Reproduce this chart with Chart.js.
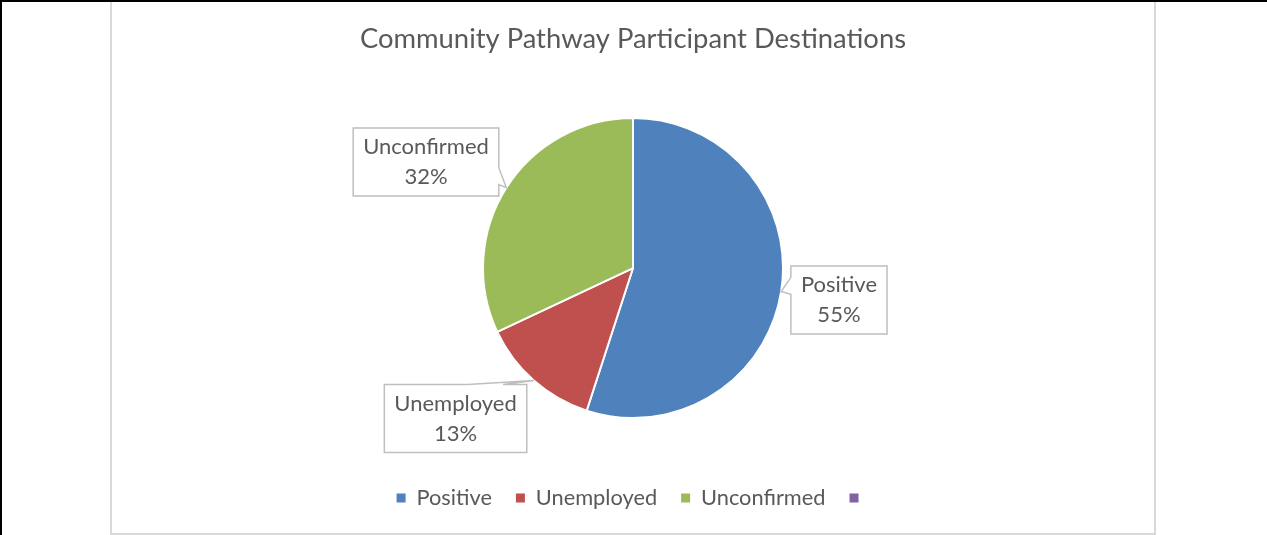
<!DOCTYPE html>
<html>
<head>
<meta charset="utf-8">
<title>Community Pathway Participant Destinations</title>
<script src="https://cdn.jsdelivr.net/npm/chart.js@4.4.1/dist/chart.umd.min.js"></script>
<style>
  html, body { margin: 0; padding: 0; background: #fff; }
  #page {
    position: absolute; left: 0; top: 0; width: 1267px; height: 535px;
    box-sizing: border-box; border-top: 2px solid #000; border-left: 2px solid #000;
  }
  #panel {
    position: absolute; left: 110px; top: 2px; width: 1046px; height: 533px;
    box-sizing: border-box; background: #fff;
    border-left: 2px solid #D9D9D9; border-right: 2px solid #D9D9D9; border-bottom: 2px solid #D9D9D9;
  }
  #chart { position: absolute; left: 0; top: 0; }
</style>
</head>
<body>
<div id="page"></div>
<div id="panel"><canvas id="chart" width="1042" height="531"></canvas></div>
<script>
// Destination categories and their shares (percent of participants)
const categories = ['Positive', 'Unemployed', 'Unconfirmed', ''];
const shares = [55, 13, 32, 0];
const sliceColors = ['#4F81BD', '#C0504D', '#9BBB59', '#8064A2'];
const chartTitle = 'Community Pathway Participant Destinations';

const FONT = 'Lato, "Noto Sans", sans-serif';
const TEXT = '#595959';

// Rectangular callout with a wedge tail pointing at each slice's outer edge
const calloutPlugin = {
  id: 'callouts',
  afterDatasetsDraw(chart, args, opts) {
    const ctx = chart.ctx;
    const meta = chart.getDatasetMeta(0);
    const total = shares.reduce((a, b) => a + b, 0);
    ctx.save();
    ctx.font = opts.fontSize + 'px ' + FONT;
    meta.data.forEach((arc, i) => {
      const v = shares[i];
      if (!v) return;
      const p = arc.getProps(['x', 'y', 'startAngle', 'endAngle', 'outerRadius'], true);
      const mid = (p.startAngle + p.endAngle) / 2;
      const tipX = p.x + Math.cos(mid) * p.outerRadius;
      const tipY = p.y + Math.sin(mid) * p.outerRadius;
      const place = opts.placement[i];
      const cx = p.x + place[0] * p.outerRadius;
      const cy = p.y + place[1] * p.outerRadius;
      const lines = [categories[i], Math.round(v / total * 100) + '%'];
      const tw = Math.max(...lines.map(s => ctx.measureText(s).width));
      const w = tw + 2 * opts.padX;
      const h = opts.boxHeight;
      const l = cx - w / 2, r = cx + w / 2, t = cy - h / 2, b = cy + h / 2;
      const dx = tipX - cx, dy = tipY - cy;
      const horizontalSide = Math.abs(dx) / (w / 2) > Math.abs(dy) / (h / 2);
      const hx1 = dx < 0 ? l + w * 2 / 12 : l + w * 7 / 12;
      const hx2 = dx < 0 ? l + w * 5 / 12 : l + w * 10 / 12;
      const vy1 = dy < 0 ? t + h * 2 / 12 : t + h * 7 / 12;
      const vy2 = dy < 0 ? t + h * 5 / 12 : t + h * 10 / 12;
      const pts = [[l, t]];
      if (!horizontalSide && dy < 0) pts.push([hx1, t], [tipX, tipY], [hx2, t]);
      pts.push([r, t]);
      if (horizontalSide && dx > 0) pts.push([r, vy1], [tipX, tipY], [r, vy2]);
      pts.push([r, b]);
      if (!horizontalSide && dy > 0) pts.push([hx2, b], [tipX, tipY], [hx1, b]);
      pts.push([l, b]);
      if (horizontalSide && dx < 0) pts.push([l, vy2], [tipX, tipY], [l, vy1]);
      ctx.beginPath();
      pts.forEach((pt, k) => k ? ctx.lineTo(pt[0], pt[1]) : ctx.moveTo(pt[0], pt[1]));
      ctx.closePath();
      ctx.fillStyle = '#fff';
      ctx.fill();
      ctx.lineWidth = 1.5;
      ctx.strokeStyle = '#BFBFBF';
      ctx.stroke();
      ctx.fillStyle = TEXT;
      ctx.textAlign = 'center';
      ctx.textBaseline = 'middle';
      ctx.fillText(lines[0], cx, cy - opts.lineGap / 2);
      ctx.fillText(lines[1], cx, cy + opts.lineGap / 2);
    });
    ctx.restore();
  }
};

new Chart(document.getElementById('chart'), {
  type: 'pie',
  data: {
    labels: categories,
    datasets: [{
      data: shares,
      backgroundColor: sliceColors,
      borderColor: '#fff',
      borderWidth: 2,
      hoverOffset: 0,
      radius: 150
    }]
  },
  plugins: [calloutPlugin],
  options: {
    responsive: false,
    animation: false,
    devicePixelRatio: 1,
    layout: { padding: { top: 0, bottom: 14, left: 0, right: 0 } },
    plugins: {
      title: {
        display: true,
        text: chartTitle,
        color: TEXT,
        font: { family: FONT, size: 27.4, weight: 'normal' },
        padding: { top: 21, bottom: 17 }
      },
      legend: {
        display: true,
        position: 'bottom',
        labels: {
          color: TEXT,
          font: { family: FONT, size: 21.8 },
          boxWidth: 9,
          boxHeight: 9,
          padding: 24,
          generateLabels(chart) {
            return Chart.controllers.pie.overrides.plugins.legend.labels.generateLabels(chart)
              .map(item => Object.assign(item, { lineWidth: 0, strokeStyle: 'rgba(0,0,0,0)' }));
          }
        }
      },
      tooltip: { enabled: false },
      callouts: {
        fontSize: 22,
        padX: 10,
        boxHeight: 68,
        lineGap: 30,
        placement: [[1.373, 0.213], [-1.183, 1.003], [-1.38, -0.707], [0, 0]]
      }
    }
  }
});
</script>
</body>
</html>
